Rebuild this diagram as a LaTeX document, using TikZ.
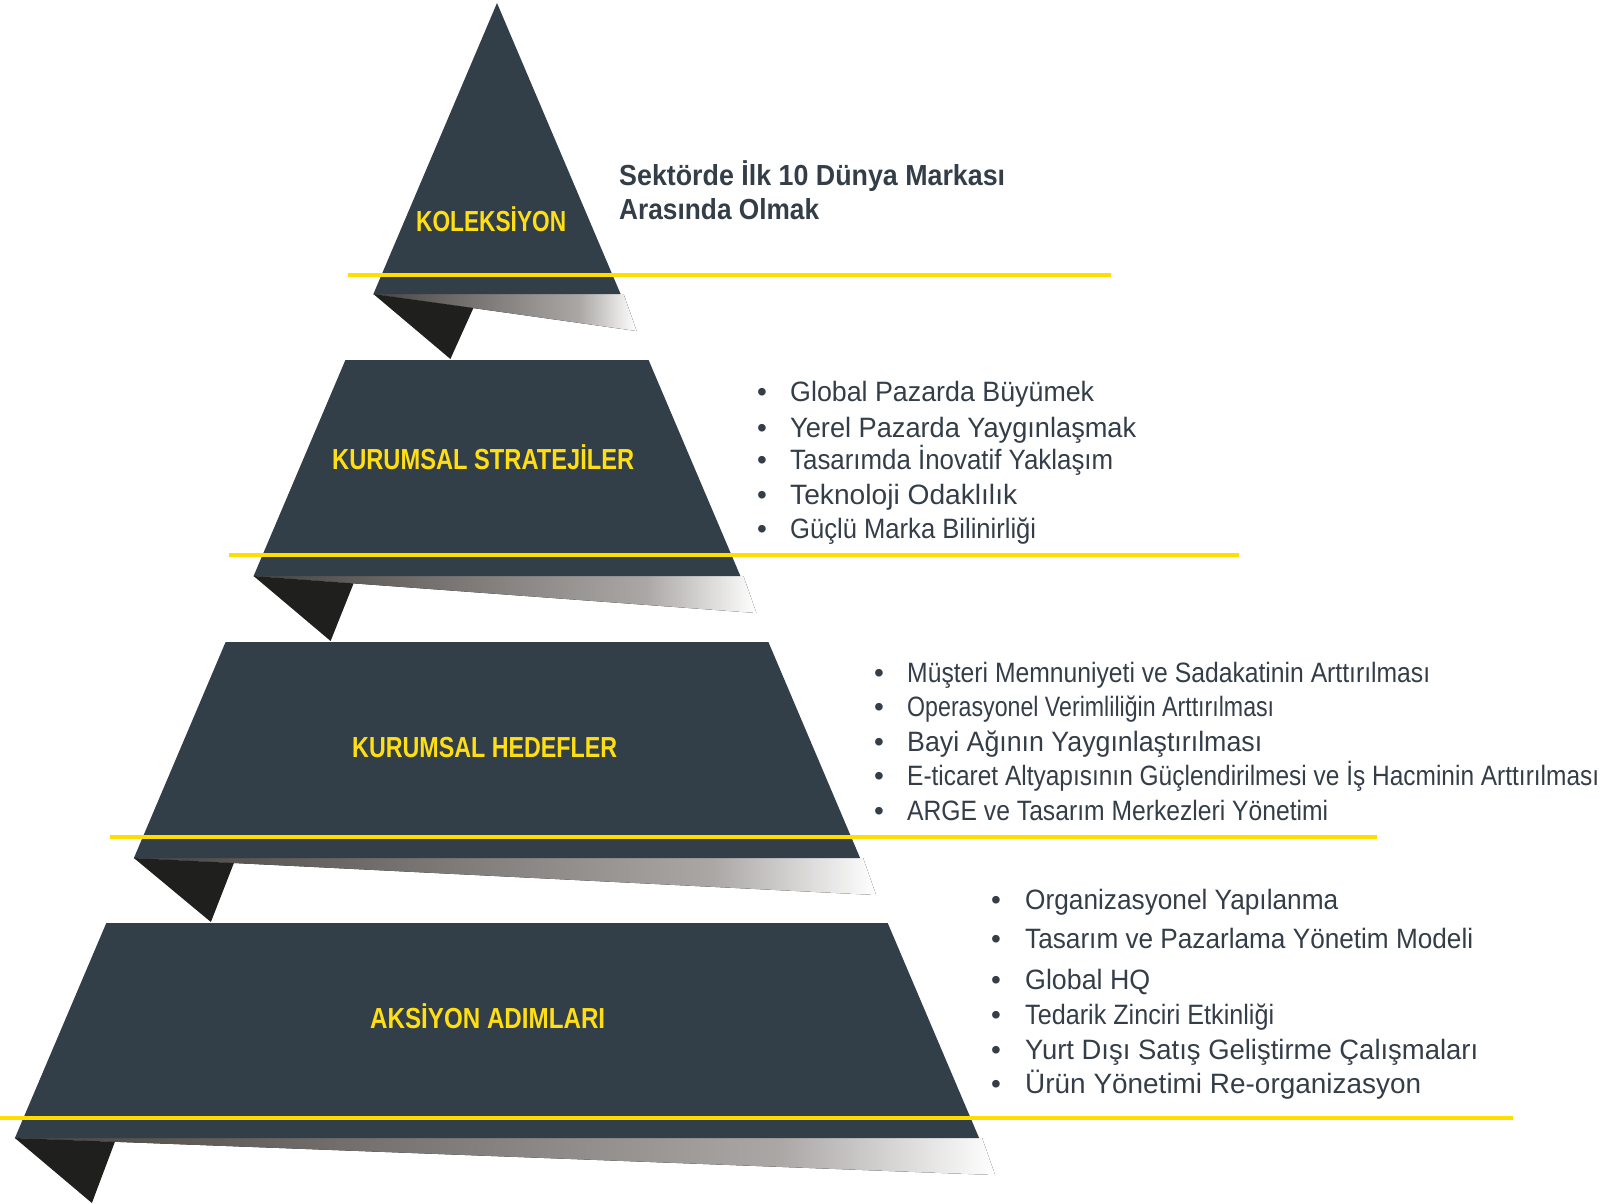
\documentclass[tikz,border=0pt]{standalone}
\usepackage{fontspec}
\setmainfont{Liberation Sans}
\usepackage{graphicx}
\definecolor{tierfill}{RGB}{50,62,72}
\definecolor{foldfill}{RGB}{31,31,29}
\definecolor{gold}{RGB}{255,221,0}
\definecolor{labelgold}{RGB}{255,222,20}
\definecolor{ink}{RGB}{52,62,72}
\definecolor{shA}{RGB}{70,68,66}
\definecolor{shB}{RGB}{135,131,128}
\definecolor{shC}{RGB}{170,167,165}
\pgfdeclarehorizontalshading{foldshade}{100bp}{color(0bp)=(shA); color(25bp)=(shA); color(50bp)=(shB); color(64bp)=(shC); color(75bp)=(white); color(100bp)=(white)}
\newcommand\fitw[2]{\resizebox{#1pt}{\height}{#2}}
\tikzset{
  tier/.style={fill=tierfill, draw=none},
  foldtri/.style={fill=foldfill, draw=none},
  foldgrad/.style={shading=foldshade, draw=none},
  goldline/.style={draw=gold, line width=3.5pt},
  tierlabel/.style={anchor=base west, inner sep=0pt, text=labelgold, font=\fontsize{29}{34}\selectfont\bfseries},
  bodytext/.style={anchor=base west, inner sep=0pt, text=ink, font=\fontsize{28}{34}\selectfont},
  headtext/.style={anchor=base west, inner sep=0pt, text=ink, font=\fontsize{29}{34}\selectfont\bfseries},
}
\begin{document}
\begin{tikzpicture}[x=1pt,y=-1pt]
\useasboundingbox (0,0) rectangle (1602,1203);
% ---- folds (gradient + dark triangle)
% fold 1
\fill[foldgrad] (373.4,294) -- (623.6,294) -- (636.6,331) -- cycle;
\fill[foldtri] (373.4,294) -- (473.4,308) -- (450.4,359) -- cycle;
% fold 2
\fill[foldgrad] (253.6,576) -- (743.4,576) -- (756.4,613) -- cycle;
\fill[foldtri] (253.6,576) -- (353.6,583.4) -- (330.6,641) -- cycle;
% fold 3
\fill[foldgrad] (133.9,858) -- (863.1,858) -- (876.1,895) -- cycle;
\fill[foldtri] (133.9,858) -- (233.9,863) -- (210.9,922) -- cycle;
% fold 4
\fill[foldgrad] (14.9,1138) -- (982.1,1138) -- (995.1,1175) -- cycle;
\fill[foldtri] (14.9,1138) -- (114.9,1141.8) -- (91.9,1203) -- cycle;
% ---- tiers
\fill[tier] (497,3) -- (620.6,294) -- (373.4,294) -- cycle;
\fill[tier] (345.4,360) -- (648.6,360) -- (740.4,576) -- (253.6,576) -- cycle;
\fill[tier] (225.6,642) -- (768.4,642) -- (860.1,858) -- (133.9,858) -- cycle;
\fill[tier] (106.3,923) -- (887.7,923) -- (979.1,1138) -- (14.9,1138) -- cycle;
% ---- yellow lines
\draw[goldline] (348,275) -- (1111,275);
\draw[goldline] (229,555) -- (1239,555);
\draw[goldline] (110,837) -- (1377,837);
\draw[goldline] (0,1118) -- (1513,1118);
% ---- tier labels
\node[tierlabel] (lab1) at (416,231) {\fitw{150}{KOLEKSİYON}};
\node[tierlabel] (lab2) at (332,469) {\fitw{302}{KURUMSAL STRATEJİLER}};
\node[tierlabel] (lab3) at (352,757) {\fitw{265}{KURUMSAL HEDEFLER}};
\node[tierlabel] (lab4) at (370,1028) {\fitw{235}{AKSİYON ADIMLARI}};
% ---- heading
\node[headtext] (head1) at (619,185) {\fitw{386}{Sektörde İlk 10 Dünya Markası}};
\node[headtext] (head2) at (619,219) {\fitw{200}{Arasında Olmak}};
% ---- tier 2 list
\foreach \txt/\w/\y [count=\i] in {
  Global Pazarda Büyümek/304/401,
  Yerel Pazarda Yaygınlaşmak/346/437,
  Tasarımda İnovatif Yaklaşım/323/469,
  Teknoloji Odaklılık/227/504,
  Güçlü Marka Bilinirliği/246/538}{
  \node[bodytext] (sb\i) at (757,\y) {•};
  \node[bodytext] (st\i) at (790,\y) {\fitw{\w}{\txt}};
}
% ---- tier 3 list
\foreach \txt/\w/\y [count=\i] in {
  Müşteri Memnuniyeti ve Sadakatinin Arttırılması/523/682,
  Operasyonel Verimliliğin Arttırılması/367/716,
  Bayi Ağının Yaygınlaştırılması/355/751,
  E-ticaret Altyapısının Güçlendirilmesi ve İş Hacminin Arttırılması/692/785,
  ARGE ve Tasarım Merkezleri Yönetimi/421/820}{
  \node[bodytext] (hb\i) at (874,\y) {•};
  \node[bodytext] (ht\i) at (907,\y) {\fitw{\w}{\txt}};
}
% ---- tier 4 list
\foreach \txt/\w/\y [count=\i] in {
  Organizasyonel Yapılanma/313/909,
  Tasarım ve Pazarlama Yönetim Modeli/448/948,
  Global HQ/125/989,
  Tedarik Zinciri Etkinliği/249/1024,
  Yurt Dışı Satış Geliştirme Çalışmaları/453/1059,
  Ürün Yönetimi Re-organizasyon/396/1093}{
  \node[bodytext] (ab\i) at (991,\y) {•};
  \node[bodytext] (at\i) at (1025,\y) {\fitw{\w}{\txt}};
}
\end{tikzpicture}
\end{document}
